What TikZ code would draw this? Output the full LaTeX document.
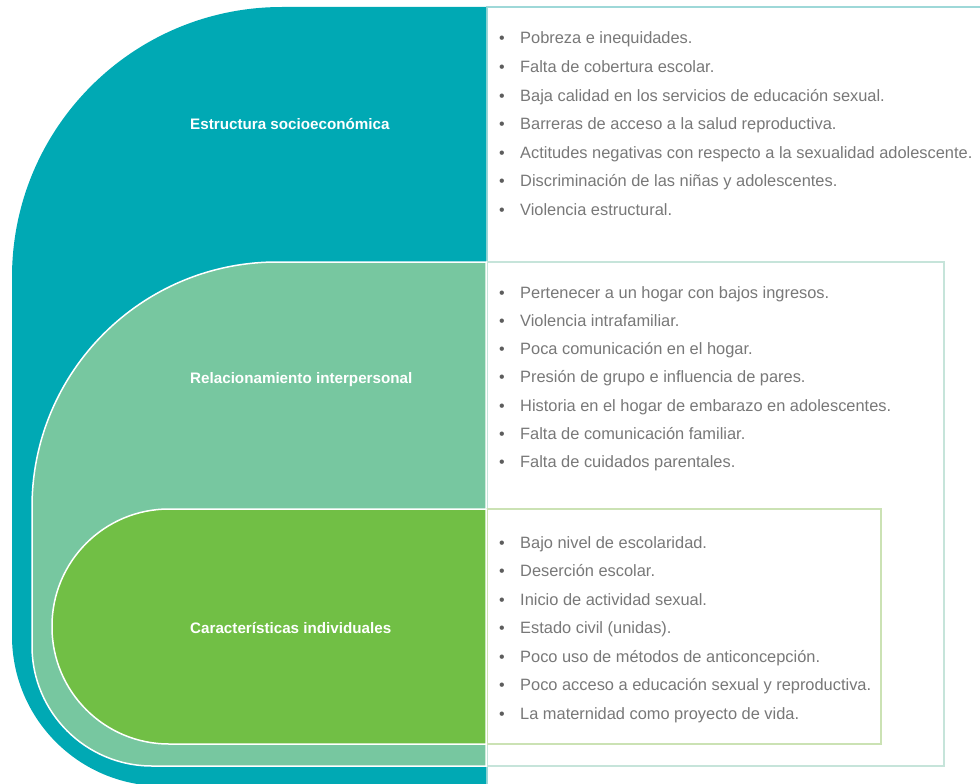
\documentclass[tikz,border=0pt]{standalone}
\usepackage{fontspec}
\setmainfont{Liberation Sans}
\definecolor{tealc}{HTML}{00A9B4}
\definecolor{mintc}{HTML}{77C7A0}
\definecolor{greenc}{HTML}{71BF45}
\definecolor{tealline}{HTML}{9ED8D8}
\definecolor{mintline}{HTML}{C6E4DA}
\definecolor{greenline}{HTML}{CBE2B4}
\definecolor{txt}{HTML}{787878}
\begin{document}
\begin{tikzpicture}[x=1pt,y=-1pt,
  item/.style={anchor=base west,inner sep=0pt,text=txt,font=\fontsize{16.4}{19}\selectfont},
  bul/.style={anchor=base,inner sep=0pt,text=txt!120,font=\fontsize{16}{19}\selectfont},
  lab/.style={anchor=base west,inner sep=0pt,text=white,font=\fontsize{15.2}{18}\selectfont\bfseries},
  outline/.style={draw=white,line width=1.5pt}]
\useasboundingbox (0,0) rectangle (980,784);
\clip (0,0) rectangle (980,784);
% boxes and shapes
\draw[tealline,line width=1.5pt,fill=white] (487,7) rectangle (1000,800);
\fill[tealc] (486,7) [rounded corners=270pt] -- (12,7) [rounded corners=150pt] -- (12,786) [sharp corners] -- (486,786) -- cycle;
\draw[mintline,line width=1.2pt,fill=white] (487,262) rectangle (944,766);
\path[outline,fill=mintc] (486,262) [rounded corners=245pt] -- (32,262) [rounded corners=120pt] -- (32,766) [sharp corners] -- (486,766) -- cycle;
\draw[greenline,line width=1.2pt,fill=white] (487,509) rectangle (881,744);
\path[outline,fill=greenc] (486,509) [rounded corners=117pt] -- (52,509) -- (52,744) [sharp corners] -- (486,744) -- cycle;
% labels
\node[lab] (l1) at (190,129) {Estructura socioeconómica};
\node[lab] (l2) at (190,383) {Relacionamiento interpersonal};
\node[lab] (l3) at (190,633) {Características individuales};
% items
\foreach \t [count=\i] in {Pobreza e inequidades.,Falta de cobertura escolar.,Baja calidad en los servicios de educación sexual.,Barreras de acceso a la salud reproductiva.,Actitudes negativas con respecto a la sexualidad adolescente.,Discriminación de las niñas y adolescentes.,Violencia estructural.}{
  \node[bul] (ba\i) at (502,{44+28.5*(\i-1)}) {•};
  \node[item] (a\i) at (520,{44+28.5*(\i-1)}) {\t};
}
\foreach \t [count=\i] in {Pertenecer a un hogar con bajos ingresos.,Violencia intrafamiliar.,Poca comunicación en el hogar.,Presión de grupo e influencia de pares.,Historia en el hogar de embarazo en adolescentes.,Falta de comunicación familiar.,Falta de cuidados parentales.}{
  \node[bul] (bb\i) at (502,{298+28.33*(\i-1)}) {•};
  \node[item] (b\i) at (520,{298+28.33*(\i-1)}) {\t};
}
\foreach \t [count=\i] in {Bajo nivel de escolaridad.,Deserción escolar.,Inicio de actividad sexual.,Estado civil (unidas).,Poco uso de métodos de anticoncepción.,Poco acceso a educación sexual y reproductiva.,La maternidad como proyecto de vida.}{
  \node[bul] (bc\i) at (502,{548+28.5*(\i-1)}) {•};
  \node[item] (c\i) at (520,{548+28.5*(\i-1)}) {\t};
}
\end{tikzpicture}
\end{document}
